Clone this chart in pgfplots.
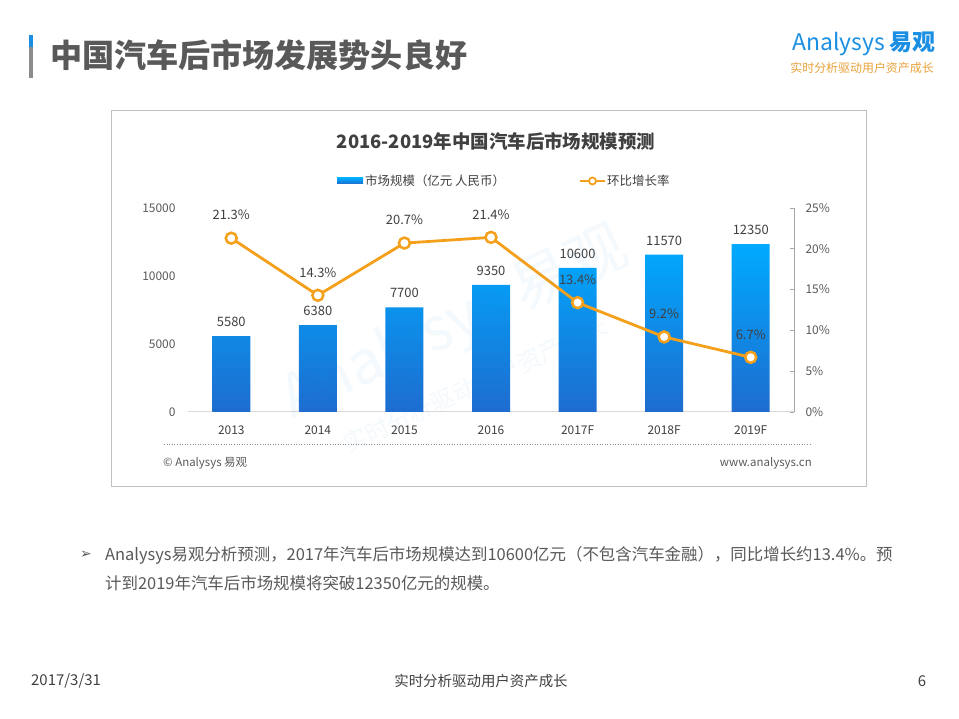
\documentclass[border=0pt]{standalone}
\usepackage{pgfplots}
\pgfplotsset{compat=1.18}
\usepackage{fontspec}
\setmainfont{Noto Sans CJK SC}
\newfontfamily\symfont{DejaVu Sans}
\definecolor{barTop}{HTML}{00AAFF}
\definecolor{barBot}{HTML}{1E6CCF}
\definecolor{lineOr}{HTML}{F5A01A}
\definecolor{txt}{HTML}{404040}
\definecolor{tickc}{HTML}{595959}
\definecolor{logoBlue}{HTML}{1A8FE3}
\definecolor{slogan}{HTML}{E9A23B}
\begin{document}
\begin{tikzpicture}[x=1bp,y=1bp]
\path[fill=white,use as bounding box] (0,0) rectangle (959,719);
\coordinate (O) at (188,307);
% slide header
\fill[logoBlue] (29,672) rectangle (33,684);
\fill[black!45] (29,641) rectangle (33,672);
\node[anchor=west, inner sep=0, text=tickc, font=\fontsize{32.2}{33}\selectfont\bfseries] at (50,664) {中国汽车后市场发展势头良好};
\node[anchor=east, inner sep=0, text=logoBlue, font=\fontsize{23}{23}\selectfont] at (936,675) {Analysys \textbf{易观}};
\node[anchor=east, inner sep=0, text=slogan, font=\fontsize{12}{12}\selectfont] at (934,651) {实时分析驱动用户资产成长};
% chart frame
\draw[black!25, line width=1bp] (111,608) rectangle (866,232);
\node[inner sep=0, text=txt, font=\fontsize{18.5}{20}\selectfont\bfseries] at (496,578) {2016-2019年中国汽车后市场规模预测};
\shade[top color=barTop, bottom color=barBot] (337,535) rectangle (363,541);
\node[anchor=west, inner sep=0, text=txt, font=\fontsize{12.5}{14}\selectfont] at (365,538) {市场规模（亿元 人民币）};
\draw[lineOr, line width=2.5bp] (580,538) -- (605,538);
\draw[lineOr, fill=white, line width=1.8bp] (592.5,538) circle (3.5);
\node[anchor=west, inner sep=0, text=txt, font=\fontsize{12.5}{14}\selectfont] at (607,538) {环比增长率};

\begin{axis}[
  at={(O)}, anchor=south west,
  scale only axis, width=606bp, height=204bp,
  xmin=-0.5, xmax=6.5, ymin=0, ymax=15000,
  axis x line*=bottom, axis y line*=left,
  y axis line style={draw=none},
  x axis line style={draw=black!15, line width=1bp},
  xtick={0,...,6}, xticklabels={2013,2014,2015,2016,2017F,2018F,2019F},
  ytick={0,5000,10000,15000}, scaled y ticks=false,
  major tick length=0,
  tick label style={font=\fontsize{12}{14}\selectfont, text=tickc},
  /pgf/number format/assume math mode=true,
  /pgf/number format/1000 sep={},
  xticklabel style={anchor=center, yshift=-18bp, text=txt},
  yticklabel style={xshift=-9bp},
  ybar, bar width=38bp,
  nodes near coords,
  every node near coord/.append style={font=\fontsize{13}{15}\selectfont, text=txt, anchor=center, yshift=14bp},
]
\addplot[draw=none, top color=barTop, bottom color=barBot] coordinates {(0,5580) (1,6380) (2,7700) (3,9350) (4,10600) (5,11570) (6,12350)};
\end{axis}

\begin{axis}[
  at={(O)}, anchor=south west,
  scale only axis, width=606bp, height=204bp,
  xmin=-0.5, xmax=6.5, ymin=0, ymax=25,
  axis x line=none, axis y line*=right,
  y axis line style={draw=black!35, line width=1bp},
  ytick={0,5,...,25}, yticklabel={\pgfmathprintnumber{\tick}\%},
  ytick style={draw=black!35, line width=0.8bp},
  major tick length=4bp, tick align=inside,
  tick label style={font=\fontsize{12}{14}\selectfont, text=tickc},
  /pgf/number format/assume math mode=true,
  yticklabel style={xshift=8bp},
  nodes near coords={\pgfmathprintnumber[fixed,precision=1,fixed zerofill]{\pgfplotspointmeta}\%},
  every node near coord/.append style={font=\fontsize{13}{15}\selectfont, text=txt, anchor=center, yshift=23bp},
]
\addplot[lineOr, line width=2.8bp, mark=*, mark size=5.5bp, mark options={fill=white, draw=lineOr, line width=2.5bp}] coordinates {(0,21.3) (1,14.3) (2,20.7) (3,21.4) (4,13.4) (5,9.2) (6,6.7)};
\end{axis}

% watermark
\node[rotate=25, opacity=0.05, text=logoBlue, inner sep=0, font=\fontsize{60}{60}\selectfont] at (455,394) {Analysys 易观};
\node[rotate=25, opacity=0.05, text=logoBlue, inner sep=0, font=\fontsize{24}{24}\selectfont] at (475,334) {实时分析驱动用户资产成长};

\draw[black!45, line width=0.6bp, dotted] (164,275) -- (812,275);
\node[anchor=west, inner sep=0, text=tickc, font=\fontsize{11.5}{13}\selectfont] at (163,256) {© Analysys 易观};
\node[anchor=east, inner sep=0, text=tickc, font=\fontsize{11.5}{13}\selectfont] at (812,256) {www.analysys.cn};

% bullet text
\node[anchor=west, inner sep=0, text=tickc, font=\fontsize{14}{16}\symfont] at (80,164) {➢};
\node[anchor=west, inner sep=0, text=tickc, font=\fontsize{16.5}{18}\selectfont] at (105,164) {Analysys易观分析预测，2017年汽车后市场规模达到10600亿元（不包含汽车金融），同比增长约13.4\%。预};
\node[anchor=west, inner sep=0, text=tickc, font=\fontsize{16.5}{18}\selectfont] at (105,136) {计到2019年汽车后市场规模将突破12350亿元的规模。};

% footer
\node[anchor=west, inner sep=0, text=txt, font=\fontsize{15}{17}\selectfont] at (31,38) {2017/3/31};
\node[inner sep=0, text=txt, font=\fontsize{14.5}{16}\selectfont] at (481,38) {实时分析驱动用户资产成长};
\node[inner sep=0, text=txt, font=\fontsize{15}{17}\selectfont] at (922,38) {6};
\end{tikzpicture}
\end{document}
